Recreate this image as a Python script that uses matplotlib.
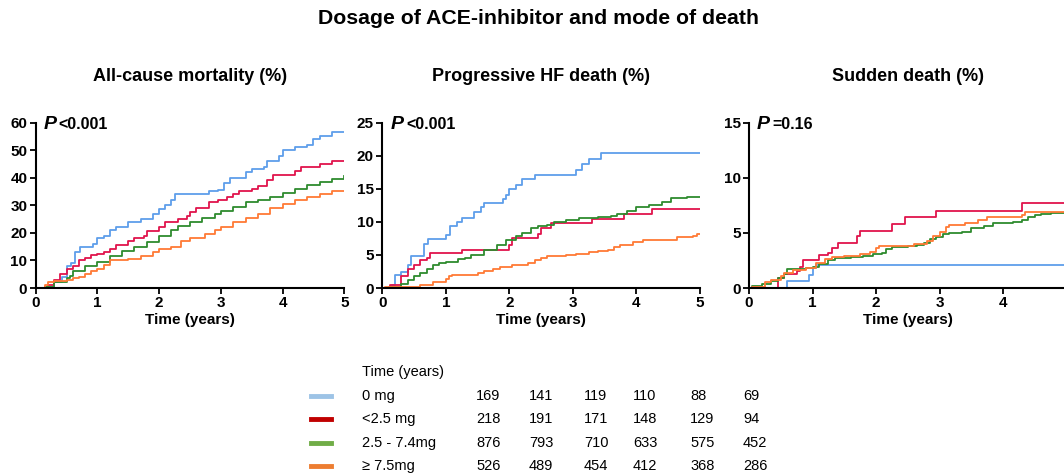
import matplotlib.pyplot as plt

plt.rcParams['font.family'] = ['Liberation Sans', 'DejaVu Sans']

groups = ["0 mg", "<2.5 mg", "2.5 - 7.4mg", "\u2265 7.5mg"]
line_colors = ["#5E9EEA", "#E0144C", "#2E8B2E", "#FF7A35"]
legend_colors = ["#9DC3E6", "#C00000", "#70AD47", "#ED7D31"]
at_risk = [
    [169, 141, 119, 110, 88, 69],
    [218, 191, 171, 148, 129, 94],
    [876, 793, 710, 633, 575, 452],
    [526, 489, 454, 412, 368, 286],
]

# all-cause mortality (%), step knots (time, value)
allcause_t = [
    [0, 0.15, 0.3, 0.42, 0.5, 0.58, 0.64, 0.72, 0.93, 0.99, 1.1, 1.2, 1.3, 1.5, 1.7, 1.9, 2.0, 2.1, 2.2, 2.25,
     2.8, 2.95, 3.05, 3.15, 3.4, 3.5, 3.7, 3.75, 3.95, 4.0, 4.2, 4.4, 4.5, 4.6, 4.8, 5.0],
    [0, 0.2, 0.3, 0.4, 0.5, 0.6, 0.7, 0.8, 0.9, 1.0, 1.1, 1.2, 1.3, 1.5, 1.6, 1.75, 1.8, 2.0, 2.1, 2.3, 2.45,
     2.5, 2.6, 2.8, 2.95, 3.1, 3.2, 3.3, 3.5, 3.6, 3.75, 3.85, 4.2, 4.3, 4.6, 4.8, 5.0],
    [0, 0.15, 0.3, 0.5, 0.55, 0.6, 0.8, 1.0, 1.2, 1.4, 1.6, 1.8, 2.0, 2.2, 2.3, 2.5, 2.7, 2.9, 3.0, 3.2, 3.4,
     3.6, 3.8, 4.0, 4.2, 4.4, 4.6, 4.8, 5.0],
    [0, 0.15, 0.2, 0.3, 0.5, 0.6, 0.7, 0.8, 0.9, 1.0, 1.1, 1.2, 1.5, 1.7, 1.9, 2.0, 2.2, 2.35, 2.5, 2.75, 2.9,
     3.0, 3.2, 3.4, 3.6, 3.8, 4.0, 4.2, 4.4, 4.6, 4.8, 5.0],
]
allcause_v = [
    [0, 0.5, 2, 4, 8, 9, 13, 15, 16, 18, 19, 21, 22, 24, 25, 27, 28.5, 30, 32, 34,
     35, 35.5, 38, 40, 42, 43, 44, 46, 48, 50, 51, 52, 54, 55, 56.5, 56.5],
    [0, 1, 3, 5, 7, 8, 10, 11, 12, 12.5, 13, 14, 15.5, 17, 18, 19, 20.5, 22, 24, 25, 26,
     27.5, 29, 31, 32, 33, 34, 35, 36, 37, 39, 41, 42.5, 44, 45, 46, 46],
    [0, 0.5, 2, 3.5, 4.5, 6, 8, 9.5, 11.5, 13.5, 15, 16.5, 19, 21, 22.5, 24, 25.5, 27, 28, 29.5, 31,
     32, 33, 34.5, 36, 37.5, 38.5, 39.5, 40.7],
    [0, 1, 2, 2.5, 3, 3.5, 4, 5, 6, 7, 8.5, 10, 10.5, 11.5, 13, 14, 15, 17, 18, 19.5, 21,
     22, 24, 25.5, 27, 29, 30.5, 32, 33, 34, 35, 35.2],
]

# progressive HF death (%)
hf_t = [
    [0, 0.15, 0.2, 0.3, 0.4, 0.45, 0.65, 0.72, 1.0, 1.07, 1.17, 1.25, 1.45, 1.55, 1.6, 1.9, 1.95, 2.0, 2.1, 2.2,
     2.4, 3.05, 3.15, 3.25, 3.45, 5.0],
    [0, 0.12, 0.3, 0.4, 0.5, 0.6, 0.7, 0.75, 1.25, 2.0, 2.05, 2.45, 2.5, 2.65, 3.3, 3.8, 4.25, 5.0],
    [0, 0.1, 0.3, 0.4, 0.5, 0.6, 0.7, 0.8, 0.9, 1.0, 1.2, 1.3, 1.4, 1.6, 1.8, 1.95, 2.1, 2.2, 2.35, 2.45, 2.6,
     2.7, 2.9, 3.1, 3.4, 3.6, 3.7, 3.85, 4.0, 4.2, 4.4, 4.55, 4.8, 5.0],
    [0, 0.05, 0.6, 0.8, 1.0, 1.05, 1.1, 1.5, 1.6, 1.75, 1.85, 2.05, 2.3, 2.4, 2.5, 2.6, 2.9, 3.05, 3.25, 3.4,
     3.55, 3.65, 3.75, 3.95, 4.1, 4.65, 4.9, 4.95, 5.0],
]
hf_v = [
    [0, 0.5, 1.9, 2.4, 3.5, 4.8, 6.6, 7.4, 8.0, 9.3, 10.0, 10.6, 11.5, 12.3, 12.8, 13.5, 14.0, 14.9, 15.6, 16.5,
     17.1, 17.9, 18.7, 19.5, 20.4, 20.4],
    [0, 0.4, 1.8, 2.9, 3.5, 4.2, 4.5, 5.3, 5.8, 6.5, 7.5, 8.2, 9.0, 9.8, 10.4, 11.2, 11.9, 11.9],
    [0, 0.2, 0.6, 1.2, 1.8, 2.2, 2.8, 3.4, 3.8, 3.9, 4.4, 4.6, 5.0, 5.8, 6.5, 7.3, 7.8, 8.3, 9.0, 9.4, 9.5,
     10.0, 10.3, 10.6, 10.8, 10.9, 11.2, 11.6, 12.2, 12.5, 13.0, 13.6, 13.7, 13.8],
    [0, 0.2, 0.5, 0.9, 1.4, 1.8, 2.0, 2.2, 2.5, 2.8, 3.2, 3.4, 3.8, 4.2, 4.5, 4.8, 5.0, 5.2, 5.4, 5.6,
     5.8, 6.2, 6.5, 7.0, 7.2, 7.7, 7.9, 8.1, 8.1],
]

# sudden death (%)
sd_t = [
    [0, 0.6, 0.95, 1.0, 1.05, 5.0],
    [0, 0.45, 0.55, 0.75, 0.8, 0.85, 1.1, 1.25, 1.3, 1.4, 1.7, 1.75, 2.25, 2.45, 2.95, 4.3, 5.0],
    [0, 0.05, 0.2, 0.35, 0.45, 0.55, 0.6, 0.9, 1.0, 1.1, 1.25, 1.35, 1.6, 1.8, 1.95, 2.1, 2.15, 2.25, 2.5, 2.65,
     2.75, 2.85, 2.95, 3.05, 3.15, 3.35, 3.5, 3.7, 3.85, 4.15, 4.3, 4.4, 4.5, 4.6, 4.75, 5.0],
    [0, 0.05, 0.25, 0.35, 0.5, 0.55, 0.7, 0.9, 1.05, 1.2, 1.3, 1.5, 1.75, 1.9, 2.0, 2.05, 2.6, 2.8, 2.9, 3.0,
     3.1, 3.15, 3.4, 3.6, 3.75, 4.3, 4.35, 5.0],
]
sd_v = [
    [0, 0.6, 1.2, 1.8, 2.05, 2.05],
    [0, 0.9, 1.3, 1.5, 1.9, 2.5, 3.0, 3.2, 3.6, 4.1, 4.7, 5.2, 5.8, 6.4, 7.0, 7.7, 7.7],
    [0, 0.2, 0.4, 0.6, 0.9, 1.3, 1.7, 1.8, 1.9, 2.2, 2.5, 2.7, 2.8, 2.9, 3.1, 3.2, 3.5, 3.7, 3.8, 3.9,
     4.1, 4.4, 4.6, 4.9, 5.0, 5.1, 5.4, 5.6, 5.9, 6.0, 6.2, 6.4, 6.6, 6.7, 6.8, 6.8],
    [0, 0.1, 0.5, 0.7, 1.1, 1.4, 1.6, 1.8, 2.3, 2.6, 2.8, 2.9, 3.1, 3.3, 3.6, 3.8, 4.0, 4.3, 4.7, 5.1,
     5.5, 5.7, 5.9, 6.2, 6.4, 6.6, 6.9, 6.9],
]

panels = [
    ("All-cause mortality (%)", allcause_t, allcause_v, 60, 10, "<0.001", 6),
    ("Progressive HF death (%)", hf_t, hf_v, 25, 5, "<0.001", 6),
    ("Sudden death (%)", sd_t, sd_v, 15, 5, "=0.16", 5),
]

W, H = 1064, 474
fig = plt.figure(figsize=(W / 100, H / 100), dpi=100)

# axes boxes in pixels: left, right
boxes = [(35.7, 344.3), (382.3, 699.7), (749, 1066.5)]
top_px, bot_px = 122.5, 288

fig.text(538 / W, 1 - 19 / H, "Dosage of ACE-inhibitor and mode of death",
         ha="center", va="center", fontsize=15.3, fontweight="bold")

for (title, ts, vs, ymax, ystep, pval, nx), (l, r) in zip(panels, boxes):
    ax = fig.add_axes([l / W, 1 - bot_px / H, (r - l) / W, (bot_px - top_px) / H])
    for t, v, c in zip(ts, vs, line_colors):
        ax.step(t, v, where="post", color=c, lw=1.3)
    ax.set_xlim(0, 5)
    ax.set_ylim(0, ymax)
    ax.set_xticks(range(nx))
    ax.set_yticks(range(0, ymax + 1, ystep))
    for s in ["top", "right"]:
        ax.spines[s].set_visible(False)
    for s in ["left", "bottom"]:
        ax.spines[s].set_linewidth(1.5)
    ax.tick_params(width=1.3, length=4, labelsize=11, pad=2)
    for lab in ax.get_xticklabels() + ax.get_yticklabels():
        lab.set_fontweight("bold")
    ax.set_xlabel("Time (years)", fontsize=11, fontweight="bold", labelpad=2)
    ax.set_title(title, fontsize=13, fontweight="bold", pad=30)
    ax.text(0.025, 0.99, "P", transform=ax.transAxes, fontsize=14, fontweight="bold",
            style="italic", va="center", ha="left")
    ax.text(0.075, 0.99, pval, transform=ax.transAxes, fontsize=11.5, fontweight="bold",
            va="center", ha="left")

# numbers at risk table
num_x = [476, 529, 584, 633, 690, 743]
row_y = [396, 419, 443, 466]
fig.text(362 / W, 1 - 372 / H, "Time (years)", fontsize=10.5, va="center")
for g, c, counts, y in zip(groups, legend_colors, at_risk, row_y):
    fig.add_artist(plt.Line2D([311 / W, 331 / W], [1 - y / H, 1 - y / H], color=c, lw=3.5))
    fig.text(362 / W, 1 - y / H, g, fontsize=10.5, va="center")
    for x, n in zip(num_x, counts):
        fig.text(x / W, 1 - y / H, str(n), fontsize=10.5, va="center")

fig.savefig("out.png", dpi=100)
